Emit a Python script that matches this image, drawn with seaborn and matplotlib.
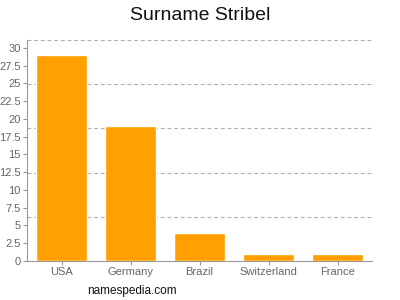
import matplotlib
matplotlib.use("Agg")
import matplotlib.pyplot as plt
import seaborn as sns
import numpy as np
import pandas as pd

countries = ["USA", "Germany", "Brazil", "Switzerland", "France"]
counts = [29, 19, 4, 1, 1]
yticks = [0, 2.5, 5, 7.5, 10, 12.5, 15, 17.5, 20, 22.5, 25, 27.5, 30]
ytick_labels = ["0", "2.5", "5", "7.5", "10", "12.5", "15", "17.5", "20", "22.5", "25", "27.5", "30"]
title = "Surname Stribel"
credit = "namespedia.com"

sns.set_style("white")
plt.rcParams['font.family'] = ['Liberation Sans', 'DejaVu Sans']

fig = plt.figure(figsize=(4, 3), dpi=100)
ax = fig.add_axes([0.0675, 0.13, 0.8625, 0.7367])

df = pd.DataFrame({"country": countries, "count": counts})
sns.barplot(data=df, x="country", y="count", color="#FFA000", saturation=1,
            width=0.725, ax=ax, zorder=3)

ymax = 31.1
ax.set_ylim(0, ymax)
ax.set_xlim(-0.5, 4.5)
for g in np.linspace(0, ymax, 6)[1:]:
    ax.axhline(g, color="#b0b0b0", linestyle=(0, (3.5, 2.5)), linewidth=0.8, zorder=1)

ax.set_yticks(yticks)
ax.set_yticklabels(ytick_labels)
ax.set_xlabel("")
ax.set_ylabel("")
gray = "#666666"
ax.tick_params(axis="both", labelsize=8, colors="#999999", labelcolor=gray,
               length=3, width=0.8, direction="out", pad=1.5)
ax.tick_params(left=True, bottom=True)
for s in ["top", "right"]:
    ax.spines[s].set_visible(False)
for s in ["left", "bottom"]:
    ax.spines[s].set_color("#999999")
    ax.spines[s].set_linewidth(0.8)

fig.text(0.5, 0.95, title, ha="center", va="center", fontsize=14, color="#111111")
fig.text(0.33, 0.03, credit, ha="center", va="center", fontsize=8.5, color="#111111")

fig.savefig("out.png", dpi=100)
